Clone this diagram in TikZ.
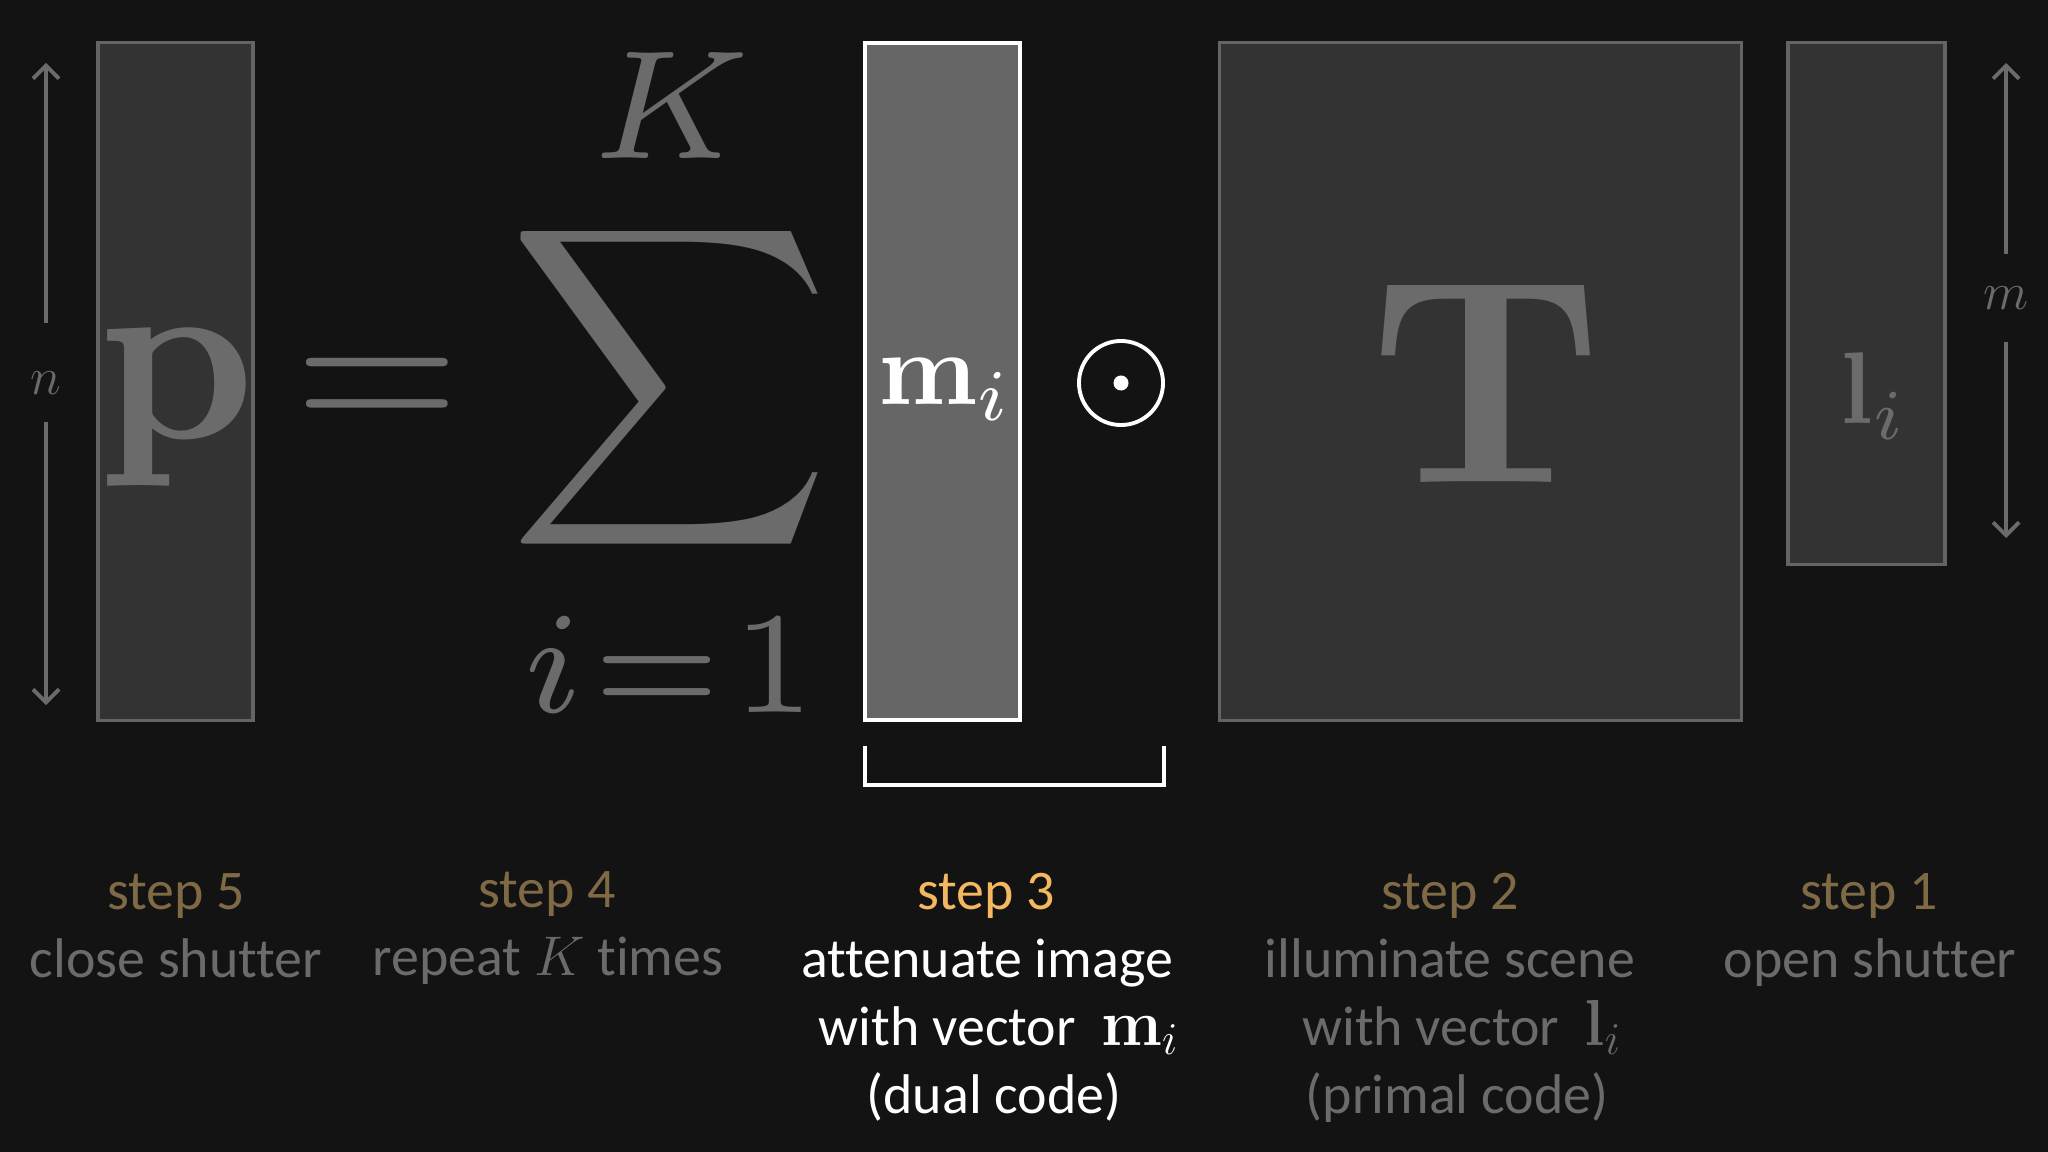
\RequirePackage{fix-cm}
\documentclass[tikz,border=0pt]{standalone}
\usepackage[no-math]{fontspec}
\newfontfamily\lab[Ligatures=NoCommon]{Carlito}
\usetikzlibrary{arrows.meta}
\definecolor{bg}{HTML}{131313}
\definecolor{dimg}{HTML}{6B6B6B}
\definecolor{boxf}{HTML}{333333}
\definecolor{boxd}{HTML}{646464}
\definecolor{gold}{HTML}{F4B860}
\definecolor{dgold}{HTML}{7F6A45}
\definecolor{midf}{HTML}{666666}
\newcommand\lmth[1]{{\fontsize{18.5}{20}\selectfont$#1$}}
\begin{document}
\begin{tikzpicture}[x=0.01cm,y=-0.01cm,
  vecbox/.style={draw=boxd,fill=boxf,line width=0.9pt,inner sep=0},
  gl/.style={text=dimg,inner sep=0},
  dimarrow/.style={draw=dimg,line width=1.1pt,-{Straight Barb[length=1.3mm,width=2.6mm]}},
  steplbl/.style={font=\lab\fontsize{15.9}{19}\selectfont,anchor=base,inner sep=0},
  dimlbl/.style={steplbl,text=dgold},
  hilbl/.style={steplbl,text=gold},
  greylbl/.style={steplbl,text=dimg},
  whitelbl/.style={steplbl,text=white}]
\fill[bg] (0,0) rectangle (2048,1152);
\useasboundingbox (0,0) rectangle (2048,1152);

% p vector
\node[vecbox,minimum width=1.55cm,minimum height=6.77cm] (pbox) at (175.5,381.5) {};
\node[gl,anchor=base,scale=7] (p) at (177,439) {$\mathbf{p}$};

% n arrow
\coordinate (ntop) at (46,63);
\coordinate (nbot) at (46,705);
\node[gl,minimum height=0.97cm,text height=0.43cm,text depth=0pt,font=\fontsize{15}{16}\selectfont] (nl) at (46,372.5) {$n$};
\draw[dimarrow] (nl.north) -- (ntop);
\draw[dimarrow] (nl.south) -- (nbot);

% equals and sum
\node[gl,anchor=base,scale=6.06] (eq) at (377,436.5) {$=$};
\node[gl,scale=6.35] (sum) at (670,387.5) {$\displaystyle\sum$};
\node[gl,anchor=base,scale=6.3] (K) at (671,159) {$\scriptstyle K$};
\node[gl,anchor=base,scale=5.9] (lim) at (669,712) {$\scriptstyle i\mkern1.2mu{=}\mkern1.2mu1$};

% m_i vector
\node[draw=white,fill=midf,line width=1.1pt,minimum width=1.55cm,minimum height=6.77cm,inner sep=0] (mbox) at (942.5,381.5) {};
\node[text=white,anchor=base,scale=2.95,inner sep=0] (mi) at (945,405) {$\mathbf{m}_i$};

% odot
\node[circle,draw=white,line width=1.1pt,minimum size=0.84cm,inner sep=0] (odot) at (1121,383) {};
\node[circle,fill=white,minimum size=0.15cm,inner sep=0] (dot) at (odot.center) {};

% bracket
\draw[white,line width=1pt] (865,746) -- (865,785) -- (1164,785) -- (1164,746);

% T matrix
\node[vecbox,minimum width=5.21cm,minimum height=6.77cm] (Tbox) at (1480.5,381.5) {};
\node[gl,anchor=base,scale=8.3] (T) at (1486,483) {$\mathbf{T}$};

% l_i vector
\node[vecbox,minimum width=1.57cm,minimum height=5.21cm] (lbox) at (1866.5,303.5) {};
\node[gl,anchor=base,scale=2.9] (li) at (1874,424) {$\mathbf{l}_i$};

% m arrow
\coordinate (mtop) at (2006,63);
\coordinate (mbot) at (2006,538);
\node[gl,minimum height=0.87cm,font=\fontsize{15}{16}\selectfont] (ml) at (2006,298) {$m$};
\draw[dimarrow] (ml.north) -- (mtop);
\draw[dimarrow] (ml.south) -- (mbot);

% labels
\node[dimlbl] (s5) at (176,909) {step 5};
\node[greylbl] (s5a) at (176,977) {close shutter};

\node[dimlbl] (s4) at (547,907) {step 4};
\node[greylbl] (s4a) at (548,975) {repeat $K$ times};

\node[hilbl] (s3) at (986,909) {step 3};
\node[whitelbl] (s3a) at (987,977) {attenuate image};
\node[whitelbl] (s3b) at (999,1045) {with vector\ \ \lmth{\mathbf{m}_i}};
\node[whitelbl] (s3c) at (994,1113) {(dual code)};

\node[dimlbl] (s2) at (1450,909) {step 2};
\node[greylbl] (s2a) at (1450,977) {illuminate scene};
\node[greylbl] (s2b) at (1462,1045) {with vector\ \ \lmth{\mathbf{l}_i}};
\node[greylbl] (s2c) at (1457,1113) {(primal code)};

\node[dimlbl] (s1) at (1869,909) {step 1};
\node[greylbl] (s1a) at (1870,977) {open shutter};
\end{tikzpicture}
\end{document}
